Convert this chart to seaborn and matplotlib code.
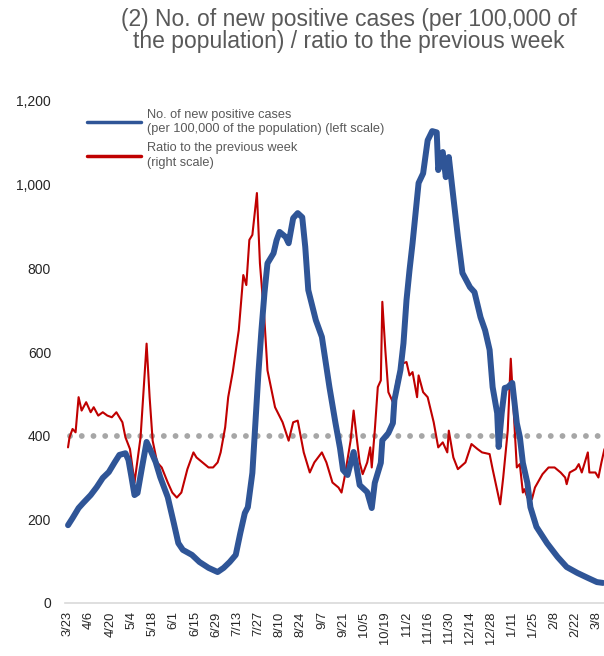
import numpy as np
import pandas as pd
import matplotlib
matplotlib.use("Agg")
import matplotlib.pyplot as plt
from matplotlib.lines import Line2D
import seaborn as sns

# days since 3/23 and new positive cases (left scale)
case_day = [0, 3, 7, 10, 15, 19, 23, 27, 31, 34, 38, 40, 42, 44, 46, 49, 52, 54, 58, 61,
            66, 70, 73, 76, 82, 87, 93, 96, 99, 103, 107, 111, 114, 117, 119, 122, 124, 126,
            128, 130, 132, 136, 138, 140, 144, 146, 149, 152, 155, 157, 159, 164, 168, 170,
            173, 177, 180, 182, 185, 189, 191, 193, 198, 201, 203, 207, 208, 212, 215, 216,
            220, 222, 224, 226, 228, 232, 235, 238, 241, 244, 245, 248, 250, 252, 255, 258,
            261, 266, 269, 273, 276, 279, 281, 284, 285, 287, 289, 291, 294, 297, 299, 301,
            304, 306, 310, 317, 324, 330, 337, 344, 350, 354]
cases = [186, 203, 227, 239, 258, 277, 299, 313, 337, 354, 358, 342, 301, 258, 263, 325, 385,
         370, 337, 301, 253, 191, 143, 127, 115, 98, 84, 79, 74, 84, 98, 115, 167, 215, 229,
         311, 430, 550, 652, 741, 812, 836, 867, 887, 875, 860, 920, 932, 922, 851, 748, 676,
         636, 588, 516, 430, 370, 318, 306, 361, 325, 282, 265, 227, 287, 335, 389, 406, 430,
         485, 557, 621, 724, 796, 860, 1004, 1027, 1106, 1128, 1125, 1035, 1078, 1018, 1066,
         970, 875, 789, 755, 743, 683, 652, 605, 516, 454, 373, 454, 514, 516, 526, 430, 397,
         335, 287, 229, 182, 143, 110, 86, 72, 60, 50, 48]

# days since 3/23 and ratio to the previous week (right scale)
ratio_day = [0, 1, 3, 5, 7, 9, 12, 15, 17, 20, 23, 26, 29, 32, 36, 38, 41, 44, 48, 52, 54,
             56, 59, 62, 66, 69, 72, 75, 79, 83, 85, 89, 93, 96, 99, 101, 104, 106, 109, 113,
             116, 118, 120, 122, 125, 127, 130, 132, 137, 142, 146, 149, 152, 156, 160, 163,
             168, 171, 175, 179, 181, 183, 187, 189, 191, 193, 195, 198, 200, 201, 203, 205,
             207, 208, 210, 212, 215, 218, 221, 224, 226, 228, 231, 232, 235, 238, 242, 245,
             248, 251, 252, 255, 258, 263, 267, 271, 274, 279, 281, 285, 286, 288, 291, 293,
             295, 297, 299, 301, 302, 304, 307, 309, 314, 318, 322, 326, 329, 330, 332, 336,
             338, 340, 344, 345, 349, 351, 353, 355]
ratio = [0.93, 0.99, 1.04, 1.02, 1.23, 1.15, 1.20, 1.14, 1.17, 1.12, 1.14, 1.12, 1.11, 1.14,
         1.08, 0.99, 0.92, 0.72, 0.99, 1.55, 1.23, 0.97, 0.84, 0.81, 0.72, 0.66, 0.63, 0.66,
         0.80, 0.90, 0.87, 0.84, 0.81, 0.81, 0.84, 0.90, 1.05, 1.23, 1.38, 1.63, 1.96, 1.90,
         2.17, 2.20, 2.45, 2.03, 1.69, 1.39, 1.17, 1.08, 0.97, 1.08, 1.09, 0.90, 0.78, 0.84,
         0.90, 0.84, 0.72, 0.69, 0.66, 0.75, 0.97, 1.15, 0.99, 0.84, 0.77, 0.84, 0.93, 0.81,
         1.03, 1.29, 1.33, 1.80, 1.51, 1.26, 1.20, 1.35, 1.43, 1.44, 1.36, 1.38, 1.23, 1.36,
         1.26, 1.23, 1.08, 0.93, 0.96, 0.90, 1.03, 0.87, 0.80, 0.84, 0.95, 0.92, 0.90, 0.89,
         0.80, 0.63, 0.59, 0.75, 1.03, 1.46, 1.14, 0.81, 0.83, 0.66, 0.68, 0.63, 0.62, 0.69,
         0.77, 0.81, 0.81, 0.78, 0.75, 0.71, 0.78, 0.80, 0.83, 0.78, 0.90, 0.78, 0.78, 0.75,
         0.84, 0.92]

tick_labels = ["3/23", "4/6", "4/20", "5/4", "5/18", "6/1", "6/15", "6/29", "7/13", "7/27",
               "8/10", "8/24", "9/7", "9/21", "10/5", "10/19", "11/2", "11/16", "11/30",
               "12/14", "12/28", "1/11", "1/25", "2/8", "2/22", "3/8"]
y_ticks = [0, 200, 400, 600, 800, 1000, 1200]

blue = "#2F5597"
red = "#C00000"
txt = "#595959"

sns.set_style("white")
plt.rcParams['font.family'] = ['Liberation Sans', 'DejaVu Sans']

fig = plt.figure(figsize=(6.04, 6.56), dpi=100)
ax = fig.add_axes([65 / 604, 53 / 656, 539 / 604, 502 / 656])
ax2 = ax.twinx()

df_cases = pd.DataFrame({"day": case_day, "cases": cases})
df_ratio = pd.DataFrame({"day": ratio_day, "ratio": ratio})

# reference line for ratio 1.0
ax2.plot([1, 356], [1.0, 1.0], color="#A6A6A6", lw=4.2,
         linestyle=(0, (0.01, 2.0)), dash_capstyle="round", zorder=1)
sns.lineplot(data=df_ratio, x="day", y="ratio", ax=ax2, color=red, lw=1.5, zorder=2)
sns.lineplot(data=df_cases, x="day", y="cases", ax=ax, color=blue, lw=4.3, zorder=3)

ax.set_zorder(ax2.get_zorder() + 1)
ax.patch.set_visible(False)

ax.set_xlim(-2, 354.7)
ax.set_ylim(0, 1200)
ax2.set_ylim(0, 3.0)
ax2.set_yticks([])
ax2.set_ylabel("")
for s in ax2.spines.values():
    s.set_visible(False)

ax.set_xticks(np.arange(len(tick_labels)) * 14)
ax.set_xticklabels(tick_labels, rotation=90, fontsize=9.3, color="#262626")
ax.set_yticks(y_ticks)
ax.set_yticklabels([f"{v:,}" for v in y_ticks], fontsize=10, color="#262626")
ax.tick_params(axis="both", length=0)
ax.tick_params(axis="y", pad=10)
ax.tick_params(axis="x", pad=6)
ax.set_xlabel("")
ax.set_ylabel("")
for s in ["top", "right", "left"]:
    ax.spines[s].set_visible(False)
ax.spines["bottom"].set_color("#D9D9D9")
ax.spines["bottom"].set_linewidth(1.2)

handles = [Line2D([], [], color=blue, lw=2.5), Line2D([], [], color=red, lw=2.5)]
labels = ["No. of new positive cases\n(per 100,000 of the population) (left scale)",
          "Ratio to the previous week\n(right scale)"]
leg = fig.legend(handles, labels, loc="upper left", bbox_to_anchor=(82 / 604, 1 - 104 / 656),
                 frameon=False, fontsize=9.2, handlelength=4.2, handletextpad=0.5,
                 labelspacing=0.55, borderaxespad=0)
for t in leg.get_texts():
    t.set_color(txt)
    t.set_linespacing(1.25)

fig.text(0.578, 1 - 8 / 656,
         "(2) No. of new positive cases (per 100,000 of\nthe population) / ratio to the previous week",
         ha="center", va="top", fontsize=16.5, color=txt, linespacing=0.92)

fig.savefig("out.png", dpi=100)
